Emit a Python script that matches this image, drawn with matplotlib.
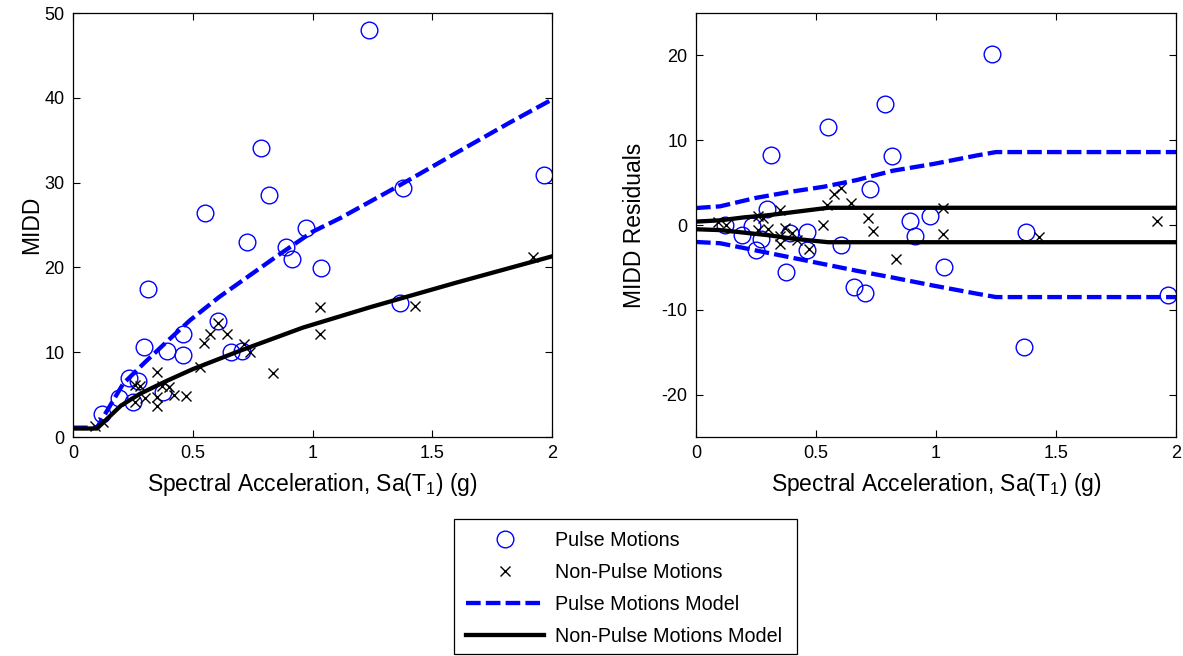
import numpy as np
import matplotlib
matplotlib.use("Agg")
import matplotlib.pyplot as plt
from matplotlib.ticker import FixedLocator, FuncFormatter
from matplotlib.patches import Rectangle

plt.rcParams['font.family'] = ['Liberation Sans', 'DejaVu Sans']
plt.rcParams['mathtext.fontset'] = 'custom'
plt.rcParams['mathtext.rm'] = 'Liberation Sans'

# ---------------- data ----------------
# Pulse motions (circles): Sa, MIDD, residual
pulse_sa = [0.12, 0.19, 0.235, 0.25, 0.27, 0.296, 0.313, 0.375, 0.391, 0.461, 0.461,
            0.551, 0.605, 0.66, 0.705, 0.725, 0.786, 0.818, 0.891, 0.914, 0.973,
            1.035, 1.235, 1.366, 1.377, 1.966]
pulse_midd = [2.7, 4.6, 6.9, 4.1, 6.6, 10.6, 17.4, 5.3, 10.2, 12.1, 9.7,
              26.4, 13.7, 10.0, 10.2, 23.0, 34.1, 28.5, 22.4, 21.0, 24.6,
              19.9, 48.0, 15.8, 29.4, 30.9]
pulse_resid = [0.05, -1.2, -0.1, -2.9, -1.7, 1.9, 8.3, -5.6, -0.95, -0.85, -2.9,
               11.5, -2.4, -7.35, -8.0, 4.3, 14.3, 8.1, 0.45, -1.3, 1.1,
               -4.9, 20.2, -14.4, -0.85, -8.3]

# Non-pulse motions (crosses): Sa, MIDD, residual
nonpulse_sa = [0.09, 0.125, 0.26, 0.28, 0.26, 0.30, 0.35, 0.35, 0.35, 0.37, 0.40,
               0.42, 0.47, 0.53, 0.545, 0.573, 0.605, 0.645, 0.715, 0.737, 0.835,
               1.03, 1.03, 1.43, 1.92]
nonpulse_midd = [1.3, 1.8, 6.1, 6.0, 4.1, 4.6, 7.7, 3.7, 4.7, 6.0, 5.9,
                 5.0, 4.8, 8.2, 11.1, 12.2, 13.5, 12.2, 11.0, 10.0, 7.5,
                 15.3, 12.2, 15.5, 21.2]
nonpulse_resid = [0.35, 0.05, 1.1, 0.8, -0.6, -0.5, 1.8, -2.2, -1.25, -0.3, -0.95,
                  -1.8, -2.8, 0.05, 2.4, 3.6, 4.4, 2.6, 0.85, -0.7, -4.0,
                  2.0, -1.1, -1.4, 0.45]

# Model curves (left panel)
pulse_model_sa = [0, 0.1, 0.21, 0.3, 0.39, 0.49, 0.61, 0.75, 0.86, 1.0, 1.115, 1.365, 1.6, 1.825, 2.0]
pulse_model_midd = [1.1, 1.1, 6.3, 8.8, 11.2, 13.8, 16.5, 19.3, 21.5, 24.2, 25.8, 29.7, 33.5, 37.1, 39.8]
nonpulse_model_sa = [0, 0.1, 0.2, 0.28, 0.39, 0.5, 0.7, 0.96, 1.24, 1.6, 2.0]
nonpulse_model_midd = [1.0, 1.0, 3.7, 5.1, 6.6, 8.0, 10.2, 12.9, 15.3, 18.2, 21.3]

# Residual bands (right panel)
pulse_band_sa = [0, 0.1, 0.25, 0.39, 0.53, 0.67, 0.82, 0.99, 1.17, 1.25, 2.0]
pulse_band_upper = [2.0, 2.2, 3.2, 3.9, 4.5, 5.3, 6.4, 7.2, 8.2, 8.6, 8.6]
pulse_band_lower = [-2.0, -2.15, -3.0, -3.8, -4.6, -5.4, -6.2, -7.15, -8.1, -8.5, -8.5]
nonpulse_band_sa = [0, 0.1, 0.2, 0.3, 0.4, 0.55, 2.0]
nonpulse_band_upper = [0.4, 0.55, 0.9, 1.15, 1.5, 2.03, 2.03]
nonpulse_band_lower = [-0.5, -0.6, -0.9, -1.2, -1.6, -2.03, -2.03]

x_ticks = [0, 0.5, 1, 1.5, 2]
left_yticks = [0, 10, 20, 30, 40, 50]
right_yticks = [-20, -10, 0, 10, 20]

labels = ['Pulse Motions', 'Non-Pulse Motions', 'Pulse Motions Model', 'Non-Pulse Motions Model']
xlabel = 'Spectral Acceleration, Sa(T$_\\mathregular{1}$) (g)'

# ---------------- plotting ----------------
W, H = 1183, 656
fig = plt.figure(figsize=(W / 100, H / 100), dpi=100)

axL = fig.add_axes([73 / W, 1 - 437 / H, (552 - 73) / W, (437 - 13) / H])
axR = fig.add_axes([696 / W, 1 - 437 / H, (1176 - 696) / W, (437 - 13) / H])

tick_fs = 13
label_fs = 16.5
legend_fs = 14.2

circ_kw = dict(linestyle='none', marker='o', markersize=12, markerfacecolor='none',
               markeredgecolor='#0000ff', markeredgewidth=1.0)
cross_kw = dict(linestyle='none', marker='x', markersize=7, color='black', markeredgewidth=1.0)
dash_kw = dict(color='#0000ff', linewidth=3.1, linestyle=(0, (3.4, 1.2)))
solid_kw = dict(color='black', linewidth=3.1)

h1, = axL.plot(pulse_sa, pulse_midd, **circ_kw)
h2, = axL.plot(nonpulse_sa, nonpulse_midd, **cross_kw)
h3, = axL.plot(pulse_model_sa, pulse_model_midd, **dash_kw)
h4, = axL.plot(nonpulse_model_sa, nonpulse_model_midd, **solid_kw)

axR.plot(pulse_sa, pulse_resid, **circ_kw)
axR.plot(nonpulse_sa, nonpulse_resid, **cross_kw)
axR.plot(pulse_band_sa, pulse_band_upper, **dash_kw)
axR.plot(pulse_band_sa, pulse_band_lower, **dash_kw)
axR.plot(nonpulse_band_sa, nonpulse_band_upper, **solid_kw)
axR.plot(nonpulse_band_sa, nonpulse_band_lower, **solid_kw)

fmt = FuncFormatter(lambda v, p: '%g' % v)
for ax, yt, yl in [(axL, left_yticks, (0, 50)), (axR, right_yticks, (-25, 25))]:
    ax.set_xlim(0, 2)
    ax.set_ylim(*yl)
    ax.xaxis.set_major_locator(FixedLocator(x_ticks))
    ax.yaxis.set_major_locator(FixedLocator(yt))
    ax.xaxis.set_major_formatter(fmt)
    ax.yaxis.set_major_formatter(fmt)
    ax.tick_params(direction='in', top=True, right=True, length=5, width=0.8,
                   labelsize=tick_fs, pad=6)
    for s in ax.spines.values():
        s.set_linewidth(0.9)
    ax.set_xlabel(xlabel, fontsize=label_fs, labelpad=6)

axL.set_ylabel('MIDD', fontsize=label_fs, labelpad=1)
axR.set_ylabel('MIDD Residuals', fontsize=label_fs, labelpad=11)

# legend entries (no automatic frame); box drawn separately
leg = fig.legend([h1, h2, h3, h4], labels, loc='upper left',
                 bbox_to_anchor=(454 / W, 1 - 519 / H),
                 fontsize=legend_fs, frameon=False, numpoints=1,
                 handlelength=3.95, labelspacing=0.66, borderpad=0.6,
                 handletextpad=0.55, borderaxespad=0)
box = Rectangle((454 / W, 1 - 654 / H), (797 - 454) / W, (654 - 519) / H,
                transform=fig.transFigure, facecolor='none', edgecolor='black',
                linewidth=0.9, zorder=5)
fig.patches.append(box)

fig.savefig('out.png', dpi=100)
